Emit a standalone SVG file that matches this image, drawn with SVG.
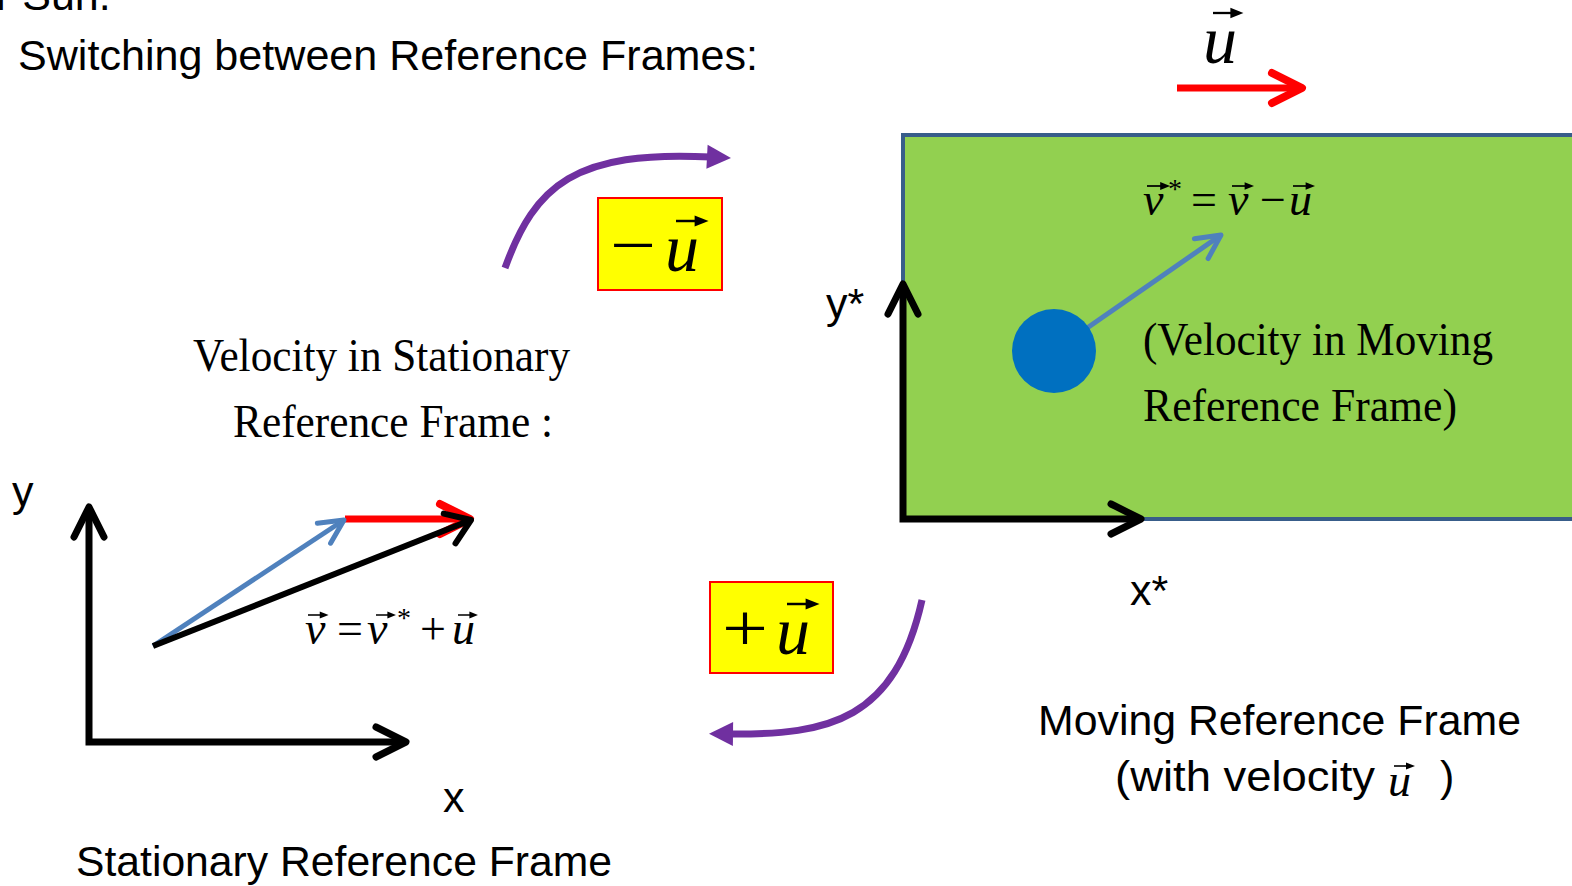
<svg xmlns="http://www.w3.org/2000/svg" width="1572" height="886" viewBox="0 0 1572 886">
<style>
.sans{font-family:"Liberation Sans",Arial,sans-serif;font-size:43px;fill:#000}
.serif{font-family:"Liberation Serif","Times New Roman",serif;font-size:47px;fill:#000}
.math{font-family:"Liberation Serif","Times New Roman",serif;font-size:46px;fill:#000}
.big{font-family:"Liberation Serif","Times New Roman",serif;font-size:68px;fill:#000}
.it{font-style:italic}
.sup{font-size:28px}
.axis{stroke:#000;stroke-width:7;fill:none;marker-start:url(#m-axis);marker-end:url(#m-axis)}
.bvec{stroke:#000;stroke-width:6;fill:none;marker-end:url(#m-bvec)}
.rvec{stroke:#FF0000;stroke-width:7;fill:none;marker-end:url(#m-red)}
.blvec{stroke:#4F81BD;stroke-width:5;fill:none;marker-end:url(#m-blue)}
.curve{stroke:#7030A0;stroke-width:7;fill:none;marker-end:url(#m-purple)}
.box{fill:#FFFF00;stroke:#FF0000;stroke-width:2}
</style>
<defs>
<marker id="m-axis" markerUnits="userSpaceOnUse" viewBox="-40 -40 80 80" markerWidth="80" markerHeight="80" refX="0" refY="0" orient="auto-start-reverse" overflow="visible"><path d="M-30,-15L0,0L-30,15" fill="none" stroke="#000" stroke-width="7" stroke-linecap="round" stroke-linejoin="round"/></marker>
<marker id="m-bvec" markerUnits="userSpaceOnUse" viewBox="-40 -40 80 80" markerWidth="80" markerHeight="80" refX="0" refY="0" orient="auto" overflow="visible"><path d="M-23,-16L0,0L-23,16" fill="none" stroke="#000" stroke-width="6" stroke-linecap="round" stroke-linejoin="round"/></marker>
<marker id="m-red" markerUnits="userSpaceOnUse" viewBox="-40 -40 80 80" markerWidth="80" markerHeight="80" refX="0" refY="0" orient="auto" overflow="visible"><path d="M-30,-15L0,0L-30,15" fill="none" stroke="#FF0000" stroke-width="8" stroke-linecap="round" stroke-linejoin="round"/></marker>
<marker id="m-blue" markerUnits="userSpaceOnUse" viewBox="-40 -40 80 80" markerWidth="80" markerHeight="80" refX="0" refY="0" orient="auto" overflow="visible"><path d="M-24,-12L0,0L-24,12" fill="none" stroke="#4F81BD" stroke-width="5" stroke-linecap="round" stroke-linejoin="round"/></marker>
<marker id="m-purple" markerUnits="userSpaceOnUse" viewBox="-40 -40 80 80" markerWidth="80" markerHeight="80" refX="0" refY="0" orient="auto" overflow="visible"><path d="M-4,-12L20,0L-4,12Z" fill="#7030A0"/></marker>
<g id="vec"><path d="M0,0H15" stroke="#000" stroke-width="1.6"/><path d="M12,-3.6L21,0L12,3.6Z" fill="#000"/></g>
</defs>
<rect width="1572" height="886" fill="#FFFFFF"/>

<g id="header">
<text class="sans" x="-4" y="10">r Sun.</text>
<text class="sans" x="18" y="70" textLength="740" lengthAdjust="spacingAndGlyphs">Switching between Reference Frames:</text>
</g>

<g id="velocity-u">
<path class="rvec" d="M1177,88 L1302,88"/>
<text class="big it" x="1203" y="63">u</text>
<use href="#vec" transform="translate(1213,13) scale(1.45)"/>
</g>

<g id="moving-frame">
<rect x="903" y="135" width="720" height="384" fill="#92D050" stroke="#385D8A" stroke-width="4"/>
<path class="axis" d="M903,284 V519 H1141"/>
<text class="sans" x="826" y="318">y*</text>
<text class="sans" x="1130" y="605">x*</text>
<path class="blvec" d="M1054,351 L1221,235"/>
<circle cx="1054" cy="351" r="42" fill="#0070C0"/>
<g id="eq-moving">
<text class="math it" x="1143" y="215">v</text>
<text class="math sup" x="1168" y="198">*</text>
<text class="math" x="1191" y="215">=</text>
<text class="math it" x="1228" y="215">v</text>
<text class="math" x="1260" y="215">−</text>
<text class="math it" x="1289" y="215">u</text>
<use href="#vec" transform="translate(1147,186) scale(1.1)"/>
<use href="#vec" transform="translate(1232,186) scale(1.05)"/>
<use href="#vec" transform="translate(1293,186) scale(1.05)"/>
</g>
<text class="serif" x="1143" y="355" textLength="350" lengthAdjust="spacingAndGlyphs">(Velocity in Moving</text>
<text class="serif" x="1143" y="421" textLength="314" lengthAdjust="spacingAndGlyphs">Reference Frame)</text>
</g>

<g id="moving-caption">
<text class="sans" x="1038" y="735" textLength="483" lengthAdjust="spacingAndGlyphs">Moving Reference Frame</text>
<text class="sans" x="1115" y="791" textLength="260" lengthAdjust="spacingAndGlyphs">(with velocity</text>
<text class="math it" x="1388" y="796" font-size="52">u</text>
<use href="#vec" transform="translate(1394,766) scale(1.0)"/>
<text class="sans" x="1440" y="791">)</text>
</g>

<g id="stationary-label">
<text class="serif" x="193" y="371" textLength="377" lengthAdjust="spacingAndGlyphs">Velocity in Stationary</text>
<text class="serif" x="233" y="437" textLength="320" lengthAdjust="spacingAndGlyphs">Reference Frame :</text>
</g>

<g id="stationary-frame">
<path class="axis" d="M89,507 V742 H406"/>
<text class="sans" x="12" y="506">y</text>
<text class="sans" x="443" y="812">x</text>
<path class="rvec" d="M345,519 L470,519"/>
<path class="blvec" d="M153,646 L344,520"/>
<path class="bvec" d="M153,646 L471,520"/>
<g id="eq-stationary">
<text class="math it" x="305" y="644">v</text>
<text class="math" x="337" y="644">=</text>
<text class="math it" x="367" y="644">v</text>
<text class="math sup" x="397" y="627">*</text>
<text class="math" x="420" y="644">+</text>
<text class="math it" x="452" y="644">u</text>
<use href="#vec" transform="translate(308,615) scale(0.98)"/>
<use href="#vec" transform="translate(376,615) scale(0.95)"/>
<use href="#vec" transform="translate(458,615) scale(0.95)"/>
</g>
<text class="sans" x="76" y="876" textLength="536" lengthAdjust="spacingAndGlyphs">Stationary Reference Frame</text>
</g>

<g id="connectors">
<path class="curve" d="M505,268 C535,185 575,150 711,157"/>
<path class="curve" d="M922,600 C895,720 830,735 729,734"/>
</g>

<g id="box-minus-u">
<rect class="box" x="598" y="198" width="124" height="92"/>
<text class="big" x="610" y="268" textLength="46" lengthAdjust="spacingAndGlyphs">−</text>
<text class="big it" x="665" y="271">u</text>
<use href="#vec" transform="translate(676,221) scale(1.55)"/>
</g>

<g id="box-plus-u">
<rect class="box" x="710" y="582" width="123" height="91"/>
<text class="big" x="722" y="651" textLength="46" lengthAdjust="spacingAndGlyphs">+</text>
<text class="big it" x="776" y="654">u</text>
<use href="#vec" transform="translate(787,604) scale(1.55)"/>
</g>
</svg>
